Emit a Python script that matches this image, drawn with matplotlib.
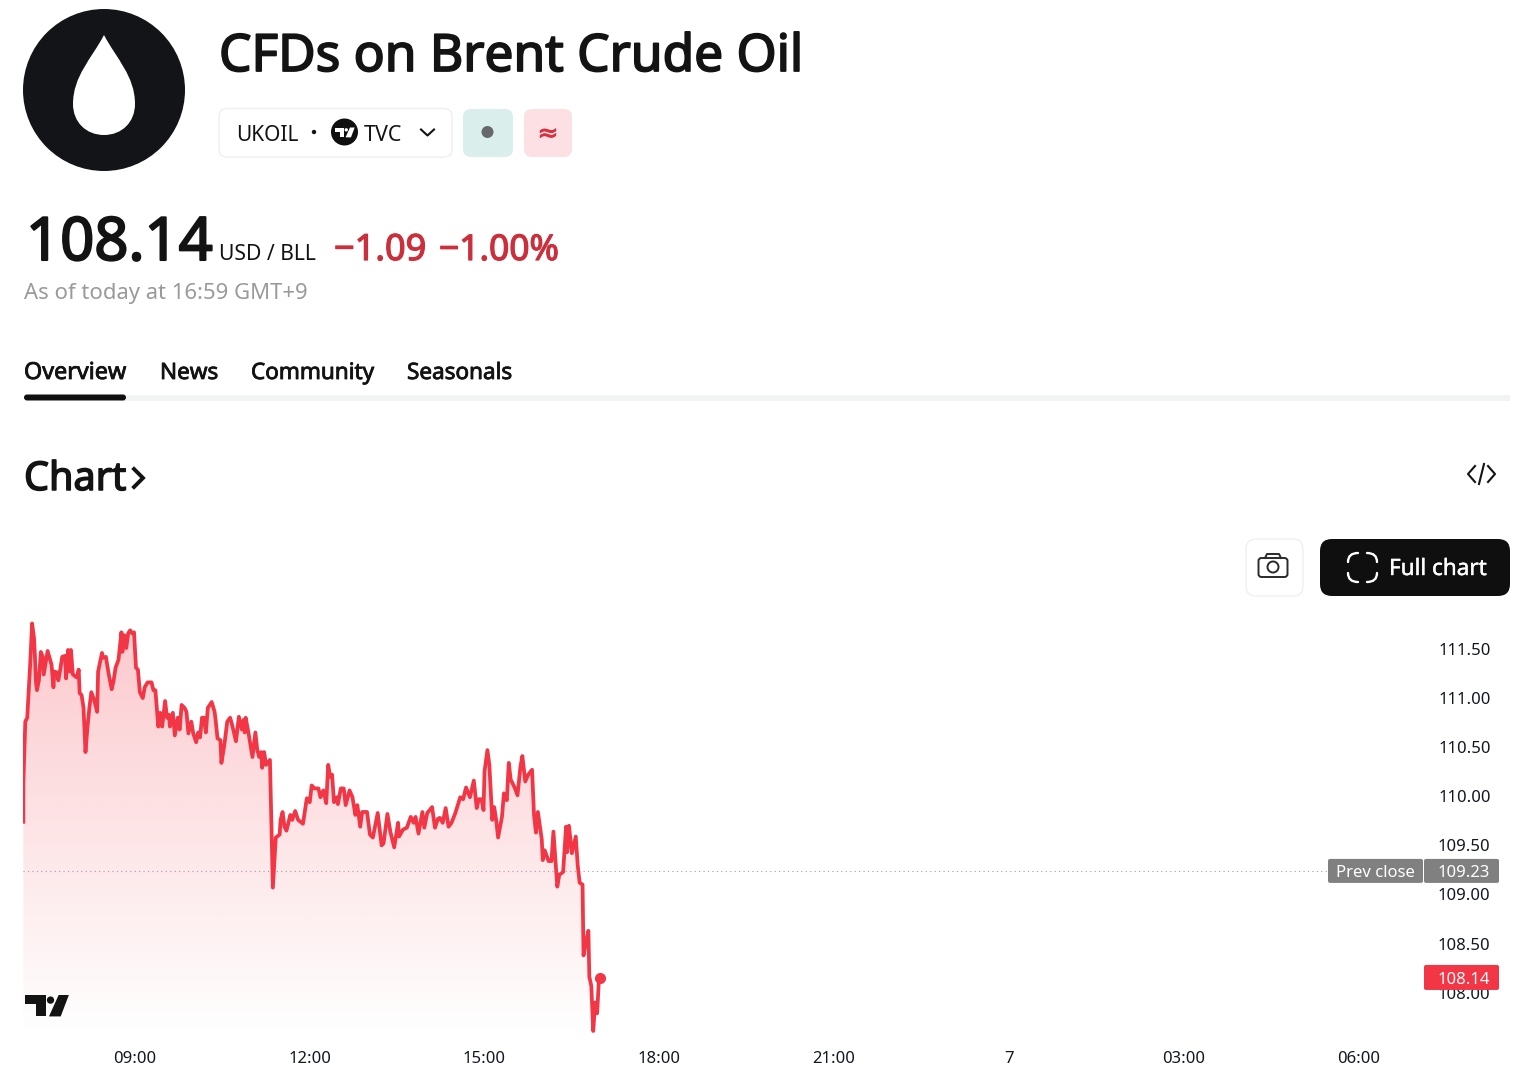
import numpy as np
import matplotlib
matplotlib.use("Agg")
import matplotlib.pyplot as plt
import matplotlib.patheffects as pe
from matplotlib.patches import FancyBboxPatch, Circle, Polygon, PathPatch, Rectangle
from matplotlib.path import Path
from matplotlib.transforms import ScaledTranslation

plt.rcParams['font.family'] = ['Noto Sans', 'DejaVu Sans']

# ---- data: minutes since 00:00 of the session day, price in USD ----
minutes = [425,425,427,429,432,434,436,437,438,439,441,443,445,446,450,452,454,456,457,460,461,463,465,468,469,471,473,474,476,480,
482,483,485,487,489,491,493,495,498,501,502,506,507,510,513,516,518,520,523,526,527,529,531,533,535,537,539,541,543,545,
548,550,553,557,559,561,564,566,568,571,573,575,576,579,581,584,586,588,591,593,595,598,600,603,605,607,609,611,613,615,
619,622,623,625,628,629,632,635,638,640,644,647,650,652,653,654,657,661,664,666,668,670,671,673,675,679,680,682,685,689,
690,692,694,696,700,702,705,708,713,717,720,722,725,729,731,734,737,739,741,743,745,748,749,752,755,757,761,764,767,769,
772,774,779,782,785,790,794,796,800,803,807,811,812,816,820,824,827,829,832,836,838,841,846,849,852,854,857,860,863,866,
870,875,878,881,885,889,892,894,897,899,900,903,905,908,910,912,914,918,920,923,925,927,931,934,937,939,942,945,949,951,
953,955,959,960,962,966,969,971,975,977,981,984,985,987,990,994,996,998,1001,1002,1005,1007,1008,1010,1012,1014,1016,1018,1019]
prices = [109.73,110.11,110.75,110.79,111.33,111.75,111.60,111.40,111.15,111.07,111.17,111.46,111.41,111.23,111.47,111.40,111.33,111.10,111.26,111.25,111.17,111.28,111.41,111.42,111.19,111.48,111.26,111.48,111.23,111.20,
111.28,111.04,111.02,110.89,110.44,110.69,110.89,111.05,110.97,110.85,111.26,111.45,111.40,111.41,111.23,111.08,111.17,111.30,111.38,111.66,111.46,111.63,111.50,111.65,111.68,111.65,111.66,111.30,111.28,111.05,
110.99,111.10,111.15,111.15,111.07,111.07,110.70,110.84,110.70,110.96,110.79,110.82,110.70,110.84,110.61,110.79,110.67,110.92,110.89,110.85,110.63,110.75,110.63,110.54,110.64,110.59,110.79,110.79,110.64,110.89,
110.95,110.85,110.77,110.58,110.56,110.33,110.51,110.75,110.79,110.72,110.55,110.80,110.67,110.77,110.64,110.79,110.63,110.39,110.64,110.46,110.39,110.44,110.28,110.44,110.31,110.36,109.92,109.06,109.57,109.60,
109.75,109.83,109.68,109.64,109.80,109.75,109.84,109.75,109.71,109.97,109.93,110.10,110.07,110.07,109.98,110.05,109.92,110.31,110.19,110.21,109.93,109.98,109.91,110.07,110.07,109.90,110.05,109.98,109.80,109.90,
109.68,109.83,109.83,109.60,109.57,109.82,109.49,109.51,109.81,109.63,109.47,109.72,109.58,109.65,109.67,109.78,109.72,109.78,109.61,109.83,109.67,109.82,109.88,109.67,109.76,109.77,109.72,109.87,109.68,109.72,
109.82,109.98,109.96,110.08,109.98,110.15,109.87,109.96,109.96,109.85,110.24,110.46,110.31,109.75,109.88,109.75,109.57,109.78,110.02,109.95,110.33,110.16,110.08,110.00,110.29,110.40,110.14,110.21,110.26,109.80,
109.62,109.83,109.55,109.34,109.44,109.33,109.33,109.63,109.07,109.19,109.22,109.68,109.42,109.69,109.41,109.58,109.29,109.11,109.09,108.37,108.53,108.62,108.15,108.06,107.60,107.89,107.78,108.15,108.14]
prev_close = 109.23
last_price = 108.14
xtick_pos = [540, 720, 900, 1080, 1260, 1440, 1620, 1800]
xtick_labels = ['09:00', '12:00', '15:00', '18:00', '21:00', '7', '03:00', '06:00']
ytick_pos = [108.0, 108.5, 109.0, 109.5, 110.0, 110.5, 111.0, 111.5]

W, H = 1536, 1085
RED = '#F23645'
INK = '#131722'
fig = plt.figure(figsize=(W / 100, H / 100), dpi=100, facecolor='white')

# ---- chart axes (pixel box 23..1510, 610..1040) ----
L, R, T, B = 23, 1510, 610, 1040
ax = fig.add_axes([L / W, 1 - B / H, (R - L) / W, (B - T) / H], zorder=1)
min_per_px = 60 / 58.25
usd_per_px = 0.5 / 49.1
for s in ax.spines.values():
    s.set_visible(False)
ax.patch.set_alpha(0)

ybot = 111.5 - (1036 - 648) * usd_per_px
ytop = max(prices)
poly = Polygon(list(zip(minutes, prices)) + [(minutes[-1], ybot), (minutes[0], ybot)],
               closed=True, transform=ax.transData, fc='none', ec='none')
ax.add_patch(poly)
grad = np.zeros((256, 1, 4))
grad[..., :3] = matplotlib.colors.to_rgb(RED)
grad[..., 3] = np.linspace(0.27, 0.0, 256)[:, None]
im = ax.imshow(grad, extent=[minutes[0], minutes[-1], ybot, ytop], origin='upper',
               aspect='auto', interpolation='bilinear', zorder=1)
im.set_clip_path(poly)
ax.set_xlim(540 + (L - 135) * min_per_px, 540 + (R - 135) * min_per_px)
ax.set_ylim(111.5 - (B - 648) * usd_per_px, 111.5 - (T - 648) * usd_per_px)

ax.hlines(prev_close, ax.get_xlim()[0], 540 + (1328 - 135) * min_per_px,
          colors='#9a9ea8', linewidth=0.8, linestyles=(0, (1, 3)), zorder=1.5)
ax.plot(minutes, prices, color=RED, lw=2.7, solid_joinstyle='round', zorder=3)
ax.plot(minutes[-1], prices[-1], 'o', color=RED, ms=7, zorder=3)

ax.set_xticks(xtick_pos)
ax.set_xticklabels(xtick_labels)
ax.set_yticks(ytick_pos)
ax.set_yticklabels([f'{v:.2f}' for v in ytick_pos])
ax.tick_params(axis='x', length=0, pad=7.7, labelsize=12, labelcolor=INK)
ax.tick_params(axis='y', length=0, left=False, labelleft=False, right=False, labelright=True,
               pad=-14.0, labelsize=12, labelcolor=INK)
down1 = ScaledTranslation(0, -0.7 / 72, fig.dpi_scale_trans)
for t in ax.get_yticklabels():
    t.set_ha('right')
    t.set_transform(t.get_transform() + down1)

# ---- overlay in pixel coordinates for page furniture ----
ov = fig.add_axes([0, 0, 1, 1], zorder=5)
ov.set_xlim(0, W)
ov.set_ylim(H, 0)
ov.axis('off')
ov.patch.set_alpha(0)


def box(x0, y0, x1, y1, r, fc, ec='none', lw=0.0, z=2):
    p = FancyBboxPatch((x0 + r, y0 + r), x1 - x0 - 2 * r, y1 - y0 - 2 * r,
                       boxstyle=f'round,pad={r},rounding_size={r}', fc=fc, ec=ec, lw=lw, zorder=z)
    ov.add_patch(p)


def txt(x, y, s, size, color=INK, stroke=0.0, ha='left', z=4):
    t = ov.text(x, y, s, fontsize=size, color=color, ha=ha, va='baseline', zorder=z)
    if stroke:
        t.set_path_effects([pe.withStroke(linewidth=stroke, foreground=color)])
    return t


def tv_logo(x, y, k, color, z=4):
    t = [(0, 0), (21, 0), (21, 21), (11, 21), (11, 9), (0, 9)]
    s = [(33, 0), (43, 0), (35, 21), (23.5, 21)]
    ov.add_patch(Polygon([(x + a * k, y + b * k) for a, b in t], fc=color, ec='none', zorder=z))
    ov.add_patch(Polygon([(x + a * k, y + b * k) for a, b in s], fc=color, ec='none', zorder=z))
    ov.add_patch(Circle((x + 25 * k, y + 5 * k), 3.6 * k, fc=color, ec='none', zorder=z))


# logo
ov.add_patch(Circle((104, 90), 81, fc='#131418', ec='none', zorder=2))
V = [(104, 35), (92, 58), (73, 76), (73, 104), (73, 122), (86, 135), (104, 135),
     (122, 135), (135, 122), (135, 104), (135, 76), (116, 58), (104, 35)]
C = [Path.MOVETO] + [Path.CURVE4] * 12
ov.add_patch(PathPatch(Path(V, C), fc='white', ec='none', zorder=3))

# title
txt(219, 71, 'CFDs on Brent Crude Oil', 37, '#131313', 1.3)

# symbol row
box(219, 108.5, 452, 157, 8, 'white', '#EFEFEF', 1.0)
txt(236, 141, 'UKOIL', 15, '#131313')
ov.add_patch(Circle((314, 132), 2.2, fc='#131313', ec='none', zorder=4))
ov.add_patch(Circle((344.5, 132), 13.5, fc='#0F0F0F', ec='none', zorder=3))
tv_logo(334.5, 127.5, 0.47, 'white')
txt(364, 141, 'TVC', 15.5, '#131313')
ov.plot([421, 427.5, 434], [129.5, 135.5, 129.5], color='#131313', lw=1.5, zorder=4)
box(463, 109, 513, 157, 8, '#DAEFEC')
ov.add_patch(Circle((487.5, 132), 6, fc='#66686C', ec='none', zorder=4))
box(524, 109, 572, 157, 8, '#FDE0E3')
txt(548, 141, '≈', 18, '#D9303F', 0.6, ha='center')

# price
txt(26, 260, '108.14', 43, '#131313', 1.5)
txt(219, 260, 'USD / BLL', 15.2, '#131313')
txt(334, 260, '−1.09', 26, '#CC2F3C', 0.9)
txt(439, 260, '−1.00%', 25.5, '#CC2F3C', 0.9)
txt(24, 299, 'As of today at 16:59 GMT+9', 15.9, '#9A9A9A')

# tabs
for x, s, size in zip([24, 160, 251, 407], ['Overview', 'News', 'Community', 'Seasonals'], [16.8, 16.2, 16.2, 16.2]):
    txt(x, 379, s, size, '#131313', 0.6)
ov.add_patch(Rectangle((120, 394.5), 1390, 6, fc='#F2F3F3', ec='none', zorder=2))
box(24, 394.5, 126, 400.5, 3, '#0F0F0F', z=3)

# heading
txt(24, 490, 'Chart', 28.5, '#131313', 1.1)
ov.plot([134, 143, 134], [469, 478, 487], color='#131313', lw=2.8, zorder=4, solid_joinstyle='miter')
# embed icon
ov.plot([1475, 1468, 1475], [466, 474, 482], color='#131313', lw=1.5, zorder=4)
ov.plot([1488, 1495, 1488], [466, 474, 482], color='#131313', lw=1.5, zorder=4)
ov.plot([1484, 1479], [464, 484], color='#131313', lw=1.5, zorder=4)

# buttons
box(1246, 539, 1303, 596, 10, 'white', '#F0F0F0', 1.0)
box(1258.5, 558, 1287.5, 577, 3, 'white', '#2A2A2A', 1.4, z=3)
ov.plot([1265, 1267, 1279, 1281], [558, 554, 554, 558], color='#2A2A2A', lw=1.4, zorder=4)
ov.add_patch(Circle((1273, 567), 5.5, fc='white', ec='#2A2A2A', lw=1.4, zorder=4))
box(1320, 539, 1510, 596, 12, '#0F0F0F')
arc = [Path.MOVETO, Path.CURVE3, Path.CURVE3]
for sx, sy, cx, cy in [(1348, 562, 1358, 553), (1377, 562, 1367, 553), (1348, 573, 1358, 582), (1377, 573, 1367, 582)]:
    ov.add_patch(PathPatch(Path([(sx, sy), (sx, cy), (cx, cy)], arc), fc='none', ec='white', lw=1.7,
                           capstyle='round', zorder=4))
txt(1389, 575, 'Full chart', 16.2, 'white', 0.3)


def price_px(v):
    return 648 + (111.5 - v) / usd_per_px


# price tags
yp = price_px(prev_close)
box(1328, yp - 12, 1423, yp + 12, 2, '#808080')
box(1424, yp - 12, 1499, yp + 12, 2, '#808080')
txt(1375, yp + 6, 'Prev close', 12, 'white', ha='center')
txt(1490, yp + 6, f'{prev_close:.2f}', 12, 'white', ha='right')
yl = price_px(last_price)
box(1424, yl - 13, 1499, yl + 12, 2, RED)
txt(1490, yl + 6.5, f'{last_price:.2f}', 12, 'white', ha='right')

# watermark
tv_logo(25, 995, 1.02, '#131313')

fig.savefig('out.png', dpi=100, facecolor='white')
